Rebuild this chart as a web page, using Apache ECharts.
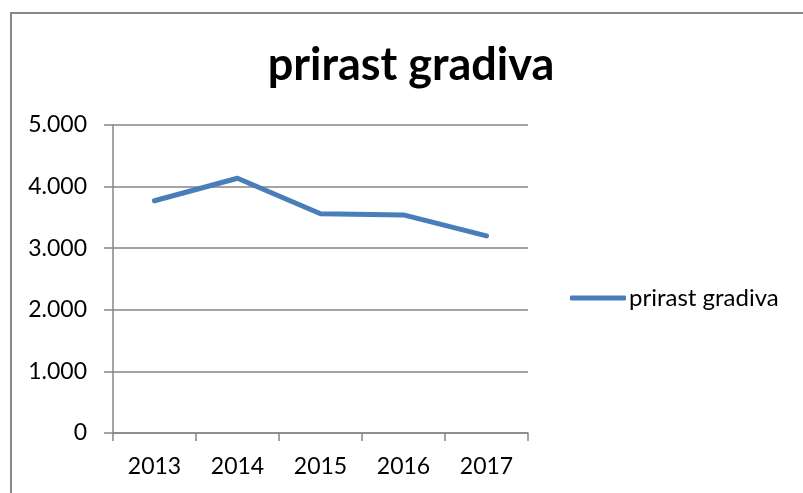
<!DOCTYPE html>
<html>
<head>
<meta charset="utf-8">
<script src="https://cdn.jsdelivr.net/npm/echarts@6/dist/echarts.min.js"></script>
<style>
  html, body { margin: 0; padding: 0; background: #fff; }
  #chart { width: 803px; height: 493px; }
</style>
</head>
<body>
<div id="chart"></div>
<script>
var years = ['2013', '2014', '2015', '2016', '2017'];
var prirast = [3770, 4135, 3560, 3540, 3200];
var seriesName = 'prirast gradiva';

var myChart = echarts.init(document.getElementById('chart'));
var fontFam = 'Lato, "Open Sans", sans-serif';
var option = {
    animation: false,
    title: {
        text: 'prirast gradiva',
        left: 406,
        textAlign: 'center',
        top: 38,
        textStyle: { fontFamily: fontFam, fontSize: 45, fontWeight: 'bold', color: '#000' }
    },
    graphic: [{
        type: 'rect',
        shape: { x: 11, y: 13, width: 900, height: 600 },
        style: { fill: 'none', stroke: '#868686', lineWidth: 2 },
        silent: true
    }],
    legend: {
        left: 570,
        top: 286,
        padding: 0,
        icon: 'roundRect',
        itemWidth: 56,
        itemHeight: 5,
        itemGap: 0,
        textStyle: { fontFamily: fontFam, fontSize: 24, color: '#000', padding: [0, 0, 0, -2] },
        data: [seriesName]
    },
    grid: { left: 113, right: 275, top: 125, bottom: 60 },
    xAxis: {
        type: 'category',
        data: years,
        axisLine: { lineStyle: { color: '#868686', width: 1.5 } },
        axisTick: { show: true, length: 8, lineStyle: { color: '#868686', width: 1.5 } },
        axisLabel: { fontFamily: fontFam, fontSize: 23, color: '#000', margin: 22 }
    },
    yAxis: {
        type: 'value',
        min: 0,
        max: 5000,
        interval: 1000,
        axisLine: { show: true, lineStyle: { color: '#868686', width: 1.5 } },
        axisTick: { show: true, length: 9, lineStyle: { color: '#868686', width: 1.5 } },
        splitLine: { lineStyle: { color: '#868686', width: 1.5 } },
        axisLabel: {
            fontFamily: fontFam, fontSize: 23, color: '#000', margin: 26,
            formatter: function (v) {
                return String(v).replace(/\B(?=(\d{3})+(?!\d))/g, '.');
            }
        }
    },
    series: [{
        name: seriesName,
        type: 'line',
        data: prirast,
        symbol: 'none',
        itemStyle: { color: '#4a7ebb' },
        lineStyle: { color: '#4a7ebb', width: 5, cap: 'round', join: 'round' }
    }]
};
myChart.setOption(option);
</script>
</body>
</html>
